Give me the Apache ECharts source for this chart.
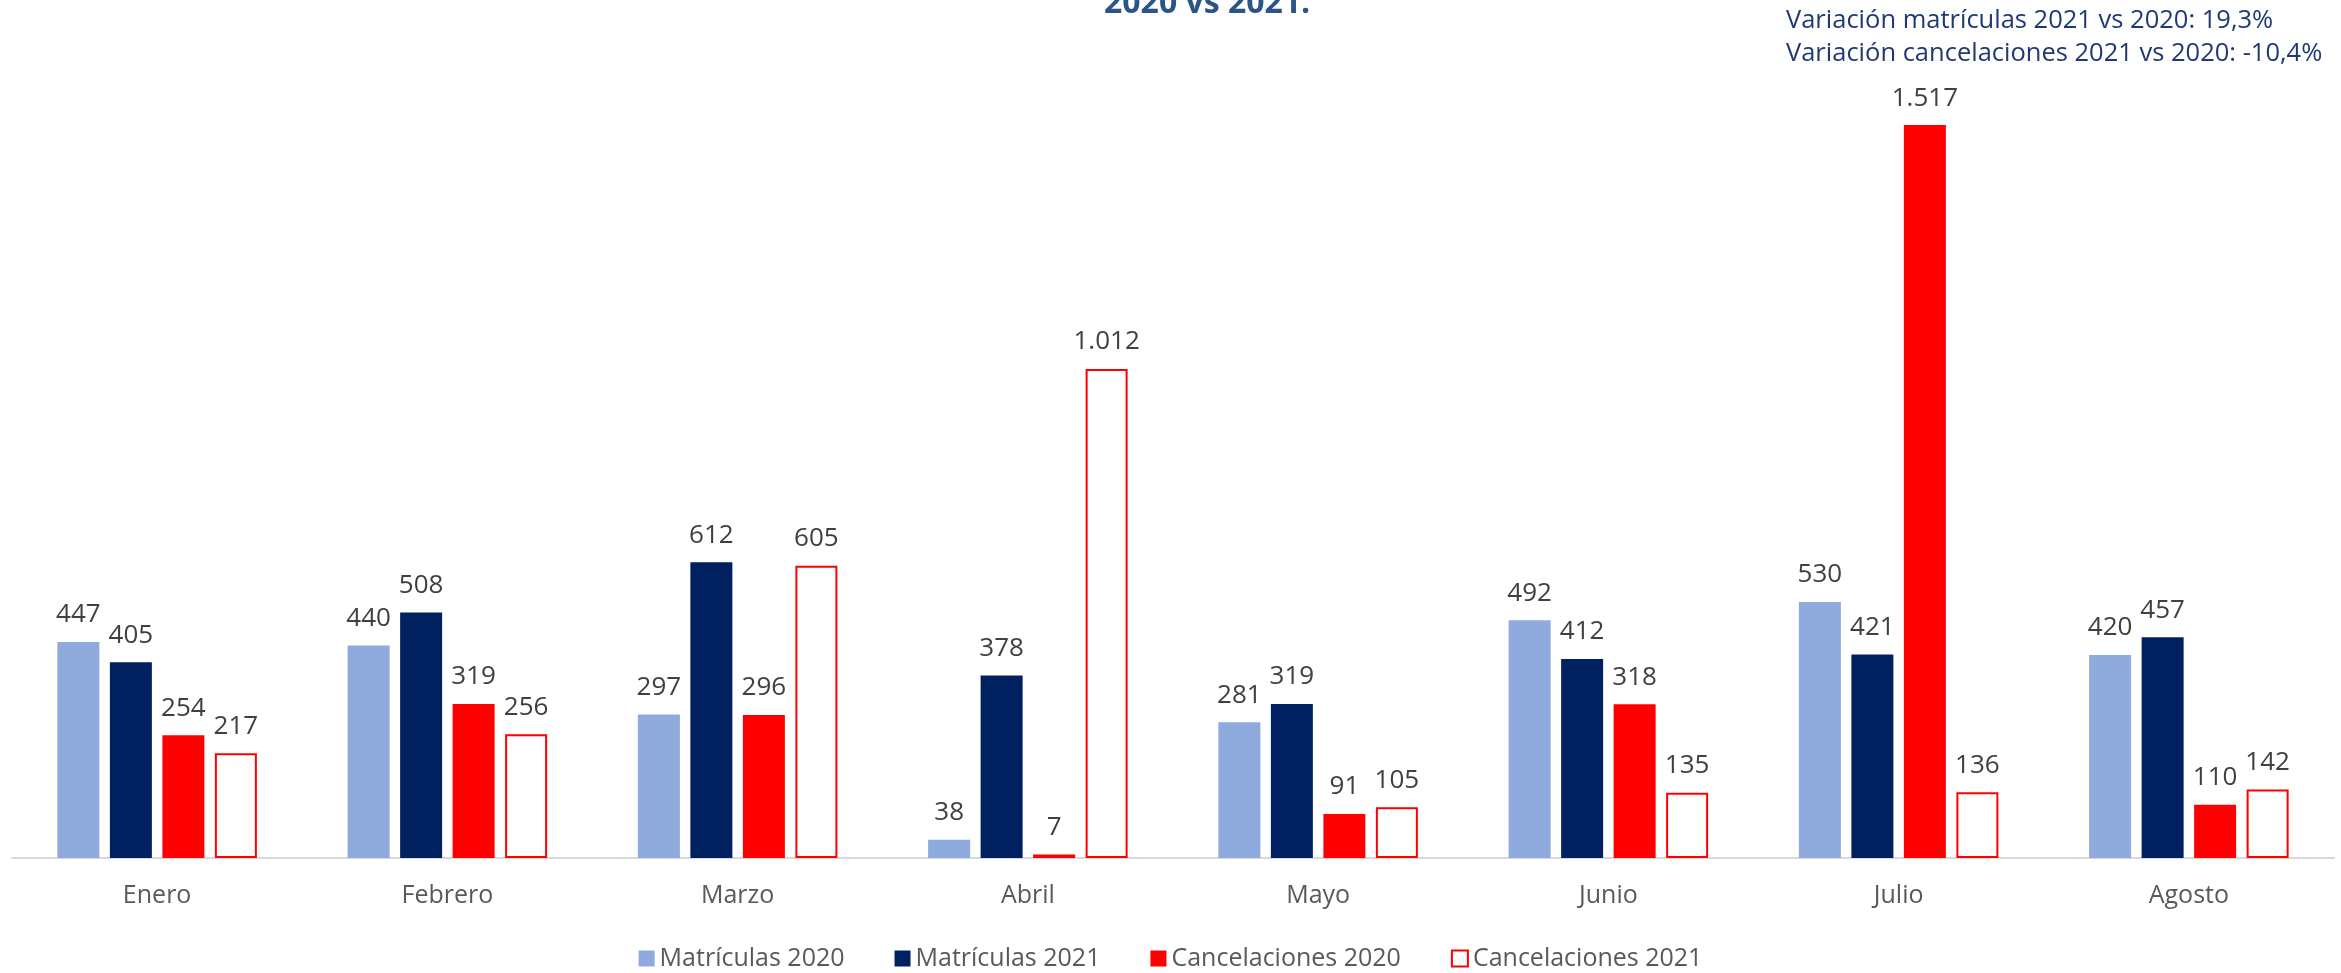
<!DOCTYPE html>
<html>
<head>
<meta charset="utf-8">
<script src="https://cdn.jsdelivr.net/npm/echarts@6/dist/echarts.min.js"></script>
<style>
  html, body { margin: 0; padding: 0; background: #fff; }
  #main { width: 2341px; height: 973px; }
</style>
</head>
<body>
<div id="main"></div>
<script>
// meses
var meses = ['Enero', 'Febrero', 'Marzo', 'Abril', 'Mayo', 'Junio', 'Julio', 'Agosto'];

// valores por serie
var matriculas2020 = [447, 440, 297, 38, 281, 492, 530, 420];
var matriculas2021 = [405, 508, 612, 378, 319, 412, 421, 457];
var cancelaciones2020 = [254, 319, 296, 7, 91, 318, 1517, 110];
var cancelaciones2021 = [217, 256, 605, 1012, 105, 135, 136, 142];

var notas = [
    'Variación matrículas 2021 vs 2020: 19,3%',
    'Variación cancelaciones 2021 vs 2020: -10,4%'
];

var fuente = '"Open Sans", Lato, sans-serif';

// 1517 -> 1.517
function miles(v) {
    return String(v).replace(/\B(?=(\d{3})+(?!\d))/g, '.');
}

var etiqueta = {
    show: true,
    position: 'top',
    distance: 14,
    color: '#404040',
    fontSize: 26,
    fontFamily: fuente,
    formatter: function (p) { return miles(p.value); }
};

function serie(nombre, datos, estilo) {
    return {
        name: nombre,
        type: 'bar',
        data: datos,
        barWidth: 42,
        barGap: '25%',
        itemStyle: estilo,
        label: etiqueta
    };
}

var chart = echarts.init(document.getElementById('main'));

var option = {
    animation: false,
    backgroundColor: '#ffffff',
    title: {
        text: '{b|2020 vs 2021}{p|.}',
        left: 1099,
        top: -17,
        textStyle: {
            rich: {
                b: { fontSize: 32, fontWeight: 'bold', color: '#2B5586', fontFamily: fuente },
                p: { fontSize: 32, color: '#2B5586', fontFamily: fuente }
            }
        }
    },
    graphic: [{
        type: 'text',
        left: 1786,
        top: 4,
        style: {
            text: notas.join('\n'),
            fontSize: 25.5,
            lineHeight: 33,
            fill: '#1F3A73',
            fontFamily: fuente
        }
    }],
    legend: {
        top: 941,
        left: 'center',
        itemWidth: 16,
        itemHeight: 16,
        itemGap: 50,
        icon: 'rect',
        textStyle: { color: '#595959', fontSize: 25, fontFamily: fuente },
        data: ['Matrículas 2020', 'Matrículas 2021', 'Cancelaciones 2020', 'Cancelaciones 2021']
    },
    grid: { left: 12, right: 7, top: 85, bottom: 115, containLabel: false },
    xAxis: {
        type: 'category',
        data: meses,
        axisLine: { lineStyle: { color: '#D9D9D9', width: 2 } },
        axisTick: { show: false },
        axisLabel: { color: '#595959', fontSize: 25, margin: 25, fontFamily: fuente }
    },
    yAxis: {
        type: 'value',
        min: 0,
        max: 1600,
        show: false,
        splitLine: { show: false }
    },
    series: [
        serie('Matrículas 2020', matriculas2020, { color: '#8FAADC' }),
        serie('Matrículas 2021', matriculas2021, { color: '#002060' }),
        serie('Cancelaciones 2020', cancelaciones2020, { color: '#FF0000' }),
        serie('Cancelaciones 2021', cancelaciones2021, { color: '#FFFFFF', borderColor: '#FF0000', borderWidth: 2 })
    ]
};

chart.setOption(option);
</script>
</body>
</html>
